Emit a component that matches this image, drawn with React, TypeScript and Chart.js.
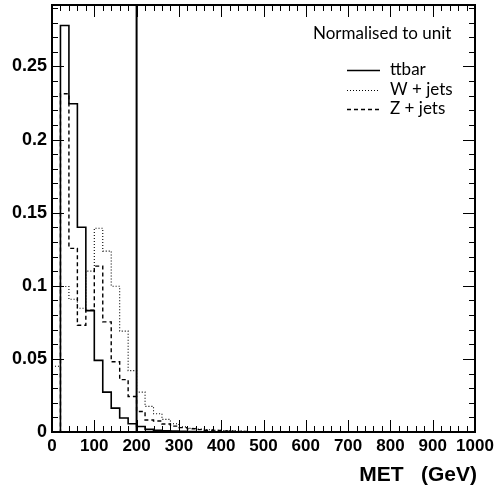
import React, { useEffect, useRef } from "react";
import { Chart, registerables } from "chart.js";

Chart.register(...registerables);

// ---- data ----
const binEdges = [0, 20, 40, 60, 80, 100, 120, 140, 160, 180, 200, 220, 240, 260, 280, 300, 320, 340, 360, 380, 400, 420, 440, 460];
const ttbarValues = [0, 0.278, 0.2245, 0.14, 0.083, 0.049, 0.0273, 0.0163, 0.0096, 0.0056, 0.0038, 0.0018, 0.0012, 0.0008, 0.0006, 0.0004, 0.0003, 0.0002, 0.0002, 0.0001, 0.0001, 0.0001, 0.0001];
const wjetsValues = [0.045, 0.0995, 0.0908, 0.0846, 0.11, 0.1393, 0.1237, 0.0997, 0.069, 0.042, 0.0273, 0.0175, 0.0125, 0.0086, 0.0056, 0.0035, 0.0025, 0.002, 0.0015, 0.0012, 0.001, 0.0008, 0.0006];
const zjetsValues = [0, 0.2313, 0.1256, 0.073, 0.0833, 0.1134, 0.0753, 0.048, 0.0358, 0.0243, 0.014, 0.0082, 0.0075, 0.0055, 0.004, 0.003, 0.0022, 0.0016, 0.0012, 0.001, 0.0008, 0.0006, 0.0004];
const seriesNames = ["ttbar", "W + jets", "Z + jets"];
const cutValue = 200;
const xMin = 0;
const xMax = 1000;
const yMin = 0;
const yMax = 0.292;
const xMajorStep = 100;
const xMinorStep = 20;
const yMajorStep = 0.05;
const yMinorStep = 0.01;
const noteText = "Normalised to unit";
const xTitle = "MET   (GeV)";

const styles = [
  { width: 1.6, dash: [] as number[] },
  { width: 1.1, dash: [1, 2] },
  { width: 1.4, dash: [4, 3] },
];

function toPoints(values: number[]) {
  const pts = values.map((v, i) => ({ x: binEdges[i], y: v }));
  pts.push({ x: binEdges[values.length], y: 0 });
  return pts;
}

const xTickFont = { family: "'Liberation Sans', Arial, sans-serif", weight: "bold" as const, size: 17 };
const yTickFont = { family: "'Liberation Sans', Arial, sans-serif", weight: "bold" as const, size: 18 };
const textFamily = "Lato, 'Open Sans', sans-serif";

const rootPlugin = {
  id: "rootFrame",
  afterDatasetsDraw(chart: any) {
    const { ctx, chartArea, scales } = chart;
    const { left, right, top, bottom } = chartArea;
    const xs = scales.x;
    const ys = scales.y;
    ctx.save();
    ctx.setLineDash([]);
    ctx.strokeStyle = "#000";
    // cut line
    const cx = xs.getPixelForValue(cutValue);
    ctx.lineWidth = 2;
    ctx.beginPath();
    ctx.moveTo(cx, top);
    ctx.lineTo(cx, bottom);
    ctx.stroke();
    // ticks
    ctx.lineWidth = 1;
    ctx.beginPath();
    const nx = Math.round((xMax - xMin) / xMinorStep);
    for (let i = 0; i <= nx; i++) {
      const v = xMin + i * xMinorStep;
      const major = Math.round(v) % xMajorStep === 0;
      const len = major ? 12 : 6;
      const px = Math.round(xs.getPixelForValue(v)) + 0.5;
      ctx.moveTo(px, bottom);
      ctx.lineTo(px, bottom - len);
      ctx.moveTo(px, top);
      ctx.lineTo(px, top + len);
    }
    const ny = Math.floor((yMax - yMin) / yMinorStep + 1e-6);
    for (let i = 0; i <= ny; i++) {
      const v = yMin + i * yMinorStep;
      const major = i % Math.round(yMajorStep / yMinorStep) === 0;
      const len = major ? 12 : 6;
      const py = Math.round(ys.getPixelForValue(v)) + 0.5;
      ctx.moveTo(left, py);
      ctx.lineTo(left + len, py);
      ctx.moveTo(right, py);
      ctx.lineTo(right - len, py);
    }
    ctx.stroke();
    // frame
    ctx.lineWidth = 2;
    ctx.strokeRect(left, top, right - left, bottom - top);

    // note
    ctx.fillStyle = "#000";
    ctx.font = `17px ${textFamily}`;
    ctx.textAlign = "left";
    ctx.textBaseline = "middle";
    ctx.fillText(noteText, 313, 34);
    // legend
    const rowY = [70, 90, 109];
    seriesNames.forEach((name, i) => {
      const y = rowY[i];
      ctx.lineWidth = styles[i].width;
      ctx.setLineDash(styles[i].dash);
      ctx.beginPath();
      ctx.moveTo(347, y + 0.5);
      ctx.lineTo(380, y + 0.5);
      ctx.stroke();
      ctx.setLineDash([]);
      ctx.fillText(name, 390, y);
    });
    // axis title
    ctx.font = `bold 21px 'Liberation Sans', Arial, sans-serif`;
    ctx.textAlign = "right";
    ctx.fillText(xTitle, 477, 475);
    ctx.restore();
  },
};

export default function App() {
  const ref = useRef<HTMLCanvasElement>(null);
  useEffect(() => {
    if (!ref.current) return;
    const datasets = [ttbarValues, wjetsValues, zjetsValues].map((vals, i) => ({
      label: seriesNames[i],
      data: toPoints(vals),
      borderColor: "#000",
      borderWidth: styles[i].width,
      borderDash: styles[i].dash,
      pointRadius: 0,
      fill: false,
      tension: 0,
      stepped: true,
    }));
    const chart = new Chart(ref.current, {
      type: "line",
      data: { datasets },
      plugins: [rootPlugin],
      options: {
        animation: false,
        responsive: false,
        layout: { padding: { left: 0, right: 29, top: 5, bottom: 0 } },
        plugins: { legend: { display: false }, tooltip: { enabled: false } },
        scales: {
          x: {
            type: "linear",
            min: xMin,
            max: xMax,
            grid: { display: false, drawTicks: false },
            border: { display: false },
            ticks: {
              stepSize: xMajorStep,
              color: "#000",
              font: xTickFont,
              padding: 4,
              maxRotation: 0,
              autoSkip: false,
              includeBounds: false,
              callback: (v: any) => String(v),
            },
            afterFit: (s: any) => {
              s.height = 61;
              s.paddingLeft = 0;
              s.paddingRight = 0;
            },
          },
          y: {
            type: "linear",
            min: yMin,
            max: yMax,
            grid: { display: false, drawTicks: false },
            border: { display: false },
            ticks: {
              stepSize: yMajorStep,
              color: "#000",
              font: yTickFont,
              padding: 5,
              includeBounds: false,
              callback: (v: any) => String(+Number(v).toFixed(2)),
            },
            afterFit: (s: any) => {
              s.width = 52;
              s.paddingTop = 0;
              s.paddingBottom = 0;
            },
          },
        },
      },
    });
    return () => chart.destroy();
  }, []);
  return (
    <div style={{ position: "absolute", left: 0, top: 0, width: 504, height: 493, background: "#fff" }}>
      <canvas ref={ref} width={504} height={493} style={{ display: "block" }} />
    </div>
  );
}
